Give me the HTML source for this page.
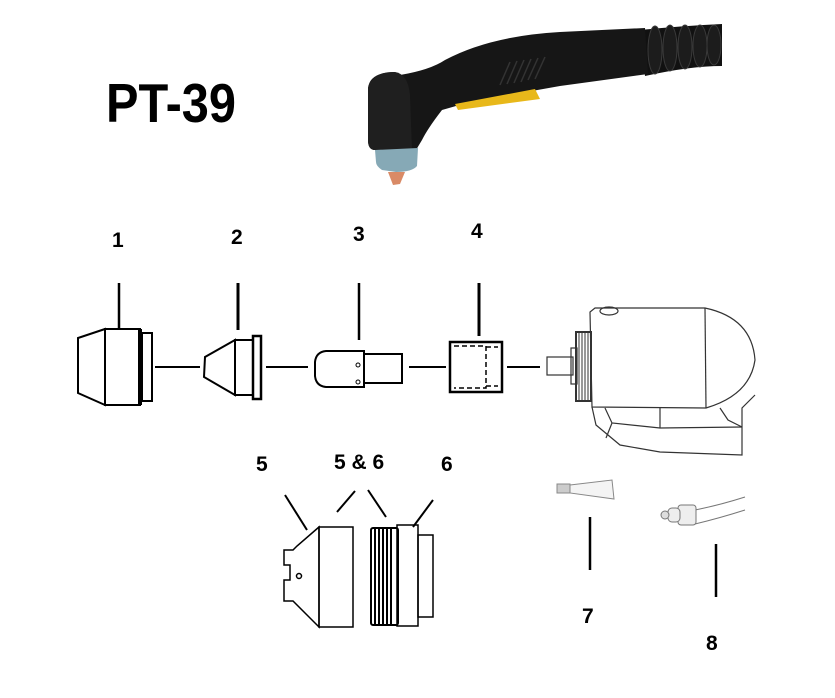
<!DOCTYPE html>
<html><head><meta charset="utf-8"><style>
html,body{margin:0;padding:0;background:#fff;}
svg{display:block;}
text{font-family:"Liberation Sans",sans-serif;font-weight:bold;fill:#000;}
</style></head><body>
<svg width="835" height="698" viewBox="0 0 835 698" xmlns="http://www.w3.org/2000/svg">
<rect width="835" height="698" fill="#fff"/>
<text x="106" y="122" font-size="55" textLength="130" lengthAdjust="spacingAndGlyphs">PT-39</text>

<!-- torch photo -->
<g>
  <path d="M640,30 Q680,26 722,24 L722,66 Q690,66 645,76 Z" fill="#111"/>
  <g fill="#1c1c1c" stroke="#3a3a3a" stroke-width="1">
    <ellipse cx="655" cy="50" rx="7" ry="24"/><ellipse cx="670" cy="48" rx="7" ry="23"/><ellipse cx="685" cy="47" rx="7" ry="22"/><ellipse cx="700" cy="46" rx="7" ry="21"/><ellipse cx="714" cy="45" rx="7" ry="20"/>
  </g>
  <path d="M400,75 Q430,70 445,60 Q490,36 560,32 L645,28 L648,74 L560,86 L470,102 L442,110 Q428,128 422,140 L416,150 L375,150 Q368,150 368,140 L368,88 Q370,72 395,72 Z" fill="#161616"/>
  <path d="M368,88 Q372,72 395,72 Q408,74 410,95 L412,150 L375,150 Q368,150 368,140 Z" fill="#1f1f1f"/>
  <path d="M455,104 L535,89 L540,99 L458,110 Z" fill="#e8b81a"/>
  <g stroke="#333" stroke-width="1.5"><path d="M500,85 L510,62"/><path d="M507,84 L517,61"/><path d="M514,83 L524,60"/><path d="M521,82 L531,59"/><path d="M528,80 L538,58"/><path d="M535,79 L545,57"/></g>
  <path d="M375,150 L418,148 L417,166 Q412,172 396,172 L382,170 Q376,166 376,162 Z" fill="#86a9b6"/>
  <path d="M388,172 L405,172 L400,184 L393,185 Z" fill="#d98a66"/>
</g>

<g stroke="#000" fill="none" stroke-width="2">
<line x1="119" y1="283" x2="119" y2="328" stroke-width="2.5"/>
<line x1="238" y1="283" x2="238" y2="330" stroke-width="3"/>
<line x1="359" y1="283" x2="359" y2="340" stroke-width="2.5"/>
<line x1="479" y1="283" x2="479" y2="336" stroke-width="3"/>
<line x1="155" y1="367" x2="200" y2="367"/>
<line x1="266" y1="367" x2="308" y2="367"/>
<line x1="409" y1="367" x2="446" y2="367"/>
<line x1="507" y1="367" x2="540" y2="367"/>
<path d="M105,329 L78,338 L78,393 L105,405 Z"/>
<rect x="105" y="329" width="35" height="76"/>
<line x1="140" y1="329" x2="140" y2="405" stroke-width="4"/>
<rect x="142" y="333" width="10" height="68"/>
<path d="M235,340 L205,357 L204,377 L235,395 Z"/>
<rect x="235" y="340" width="18" height="55"/>
<rect x="253" y="336" width="8" height="63" stroke-width="2.5"/>
<path d="M364,351 L326,351 Q316,352 315,362 L315,376 Q316,386 326,387 L364,387 Z"/>
<rect x="364" y="354" width="38" height="29"/>
<circle cx="358" cy="365" r="2" stroke-width="1"/>
<circle cx="358" cy="382" r="2" stroke-width="1"/>
<rect x="450" y="342" width="52" height="50" stroke-width="2.5"/>
<path d="M454,346 L486,346 L486,388 L454,388 M486,347 L498,347 M486,386 L498,386" stroke-dasharray="5,3" stroke-width="1.5"/>
</g>

<g stroke="#333" fill="none" stroke-width="1.2">
<rect x="547" y="357" width="26" height="18"/>
<rect x="571" y="348" width="6" height="36"/>
<rect x="576" y="332" width="15" height="69" stroke-width="2"/>
<g stroke-width="1"><line x1="579" y1="332" x2="579" y2="401"/><line x1="582" y1="332" x2="582" y2="401"/><line x1="585" y1="332" x2="585" y2="401"/><line x1="588" y1="332" x2="588" y2="401"/></g>
<path d="M590,312 L592,407 L706,408 Q750,395 755,360 Q752,318 705,308 L595,308 Z"/>
<line x1="705" y1="308" x2="706" y2="408"/>
<ellipse cx="609" cy="311" rx="9" ry="4"/>
<path d="M592,407 L596,425 L620,445 L660,452 L742,455 L742,408 L755,395"/>
<path d="M605,408 L612,423 L660,428 L742,427"/>
<path d="M612,423 L606,438"/>
<line x1="660" y1="428" x2="660" y2="408"/>
<path d="M720,408 L728,420 L742,427"/>
</g>

<g stroke="#000" stroke-width="2">
<line x1="285" y1="495" x2="307" y2="530"/>
<line x1="355" y1="491" x2="337" y2="512"/>
<line x1="368" y1="490" x2="386" y2="517"/>
<line x1="433" y1="500" x2="413" y2="527"/>
<line x1="590" y1="517" x2="590" y2="570" stroke-width="2.5"/>
<line x1="716" y1="544" x2="716" y2="597" stroke-width="2.5"/>
</g>

<g stroke="#000" fill="none" stroke-width="1.5">
<path d="M319,527 L297,546 L293,550 L284,550 L284,565 L290,565 L290,580 L284,580 L284,601 L293,601 L319,627 Z"/>
<rect x="319" y="527" width="34" height="100"/>
<circle cx="299" cy="576" r="2.5"/>
<rect x="371" y="528" width="27" height="97" rx="2" stroke-width="2"/>
<g stroke-width="2"><line x1="375" y1="529" x2="375" y2="624"/><line x1="379" y1="529" x2="379" y2="624"/><line x1="383" y1="529" x2="383" y2="624"/><line x1="387" y1="529" x2="387" y2="624"/><line x1="391" y1="529" x2="391" y2="624"/></g>
<rect x="397" y="525" width="21" height="101"/>
<rect x="418" y="535" width="15" height="82"/>
</g>

<g stroke="#888" fill="#f4f4f4" stroke-width="1">
<path d="M570,485 L612,480 L614,499 L570,493 Z"/>
<rect x="557" y="484" width="13" height="9" fill="#ccc"/>
</g>
<g stroke="#777" fill="#eee" stroke-width="1">
<path d="M695,510 Q720,505 745,497 M695,524 Q720,518 745,510" fill="none"/>
<rect x="678" y="505" width="18" height="20" rx="3"/>
<rect x="668" y="508" width="12" height="14" rx="4"/>
<circle cx="665" cy="515" r="4" fill="#ddd"/>
</g>

<text x="112" y="247" font-size="21">1</text>
<text x="231" y="244" font-size="21">2</text>
<text x="353" y="241" font-size="21">3</text>
<text x="471" y="238" font-size="21">4</text>
<text x="256" y="471" font-size="21">5</text>
<text x="334" y="469" font-size="21">5 &amp; 6</text>
<text x="441" y="471" font-size="21">6</text>
<text x="582" y="623" font-size="21">7</text>
<text x="706" y="650" font-size="21">8</text>
</svg>
</body></html>
